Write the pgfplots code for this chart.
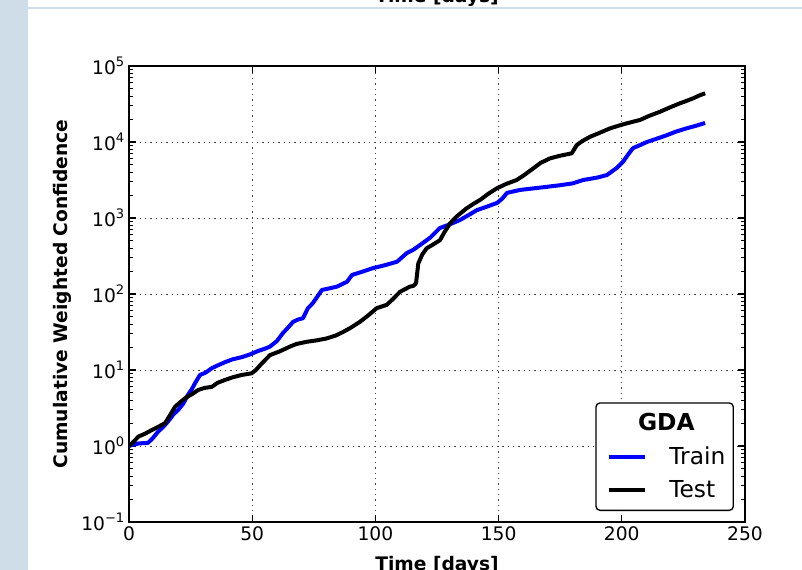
\documentclass[border=0pt]{standalone}
\usepackage{fontspec}
\setmainfont{DejaVu Sans}
\usepackage{pgfplots}
\pgfplotsset{compat=1.18}
\definecolor{sidebar}{RGB}{207,221,233}
\newcommand{\tp}[1]{10\raisebox{6pt}{\fontsize{9.8}{10}\selectfont #1}}

\begin{document}
\begin{tikzpicture}
% page = 802x570 px, 1 px = 0.75pt, plot box lower left at (0,0)
\useasboundingbox (-96.75pt,-36pt) rectangle (504.75pt,391.5pt);
\clip (-96.75pt,-36pt) rectangle (504.75pt,391.5pt);
\fill[white] (-96.75pt,-36pt) rectangle (504.75pt,391.5pt);
\fill[sidebar] (-96.75pt,-36pt) rectangle (-75.4pt,391.5pt);
\draw[sidebar, line width=1pt] (-75.4pt,385.5pt) -- (504.75pt,385.5pt);
\node[anchor=base, font=\fontsize{14}{16}\selectfont\bfseries, inner sep=0pt] at (231pt,389.4pt) {Time [days]};

\begin{axis}[
    at={(0,0)}, anchor=south west,
    scale only axis, width=462pt, height=342pt,
    xmin=0, xmax=250, ymin=0.1, ymax=1e5,
    ymode=log,
    xtick={0,50,100,150,200,250},
    xticklabels={0,50,100,150,200,250},
    ytick={0.1,1,10,100,1000,10000,100000},
    yticklabels={\tp{−1},\tp{0},\tp{1},\tp{2},\tp{3},\tp{4},\tp{5}},
    tick label style={font=\fontsize{14}{16}\selectfont},
    axis line style={line width=1.1pt},
    every tick/.style={black, line width=0.8pt},
    major tick length=5.5pt, minor tick length=3pt,
    grid=major,
    major grid style={black!75, line width=0.6pt, dash pattern=on 1pt off 3pt},
    xlabel={Time [days]}, ylabel={Cumulative Weighted Confidence},
    label style={font=\fontsize{14}{16}\selectfont\bfseries},
    xlabel style={at={(axis description cs:0.5,-0.0746)}, anchor=north, inner sep=0pt},
    ylabel style={at={(axis description cs:-0.1085,0.5)}, anchor=center},
    legend cell align=left,
    legend style={at={(axis description cs:0.9821,0.0241)}, anchor=south east,
        font=\fontsize{17.5}{20}\selectfont, draw=black, line width=1pt,
        rounded corners=3pt, inner xsep=4pt, inner ysep=6pt, row sep=6.5pt, column sep=15pt},
    legend image code/.code={\path (-4pt,0pt); \draw[#1] (0pt,0pt) -- (27pt,0pt);},
]
\addlegendimage{empty legend}
\addlegendentry{\makebox[0pt][c]{\textbf{GDA}\hspace{4.5pt}}}

\addplot[color=blue, line width=3pt, line join=round] coordinates {
(0,1.0) (1.1,1.03) (4,1.08) (7.7,1.1) (9.5,1.25) (11.8,1.54) (14,1.8)
(15.8,2.09) (18,2.6) (19.9,2.97) (22,3.6) (23.9,4.7) (25.5,5.6) (26.8,6.7)
(28.8,8.6) (31,9.2) (33.7,10.6) (36,11.5) (39,12.7) (42,13.8) (45.9,14.8)
(49,16) (52.4,17.8) (55,19) (57.2,20.3) (60,24) (62.5,30.7) (64.5,36)
(66.6,43) (68.5,46) (70.6,48) (72.6,65) (74.5,75) (76.3,91) (78.3,113)
(81,118) (84.4,125) (88.5,145) (90.5,178) (95,198) (99,219) (104,240)
(108.8,266) (112.8,347) (115.3,380) (118.5,450) (122.2,550) (126.2,740)
(130,820) (134.3,940) (138,1100) (141.2,1270) (145,1400) (149.4,1580)
(151.5,1800) (153.4,2140) (158.7,2340) (164,2450) (170,2580) (174.9,2700)
(180,2850) (184.3,3160) (190,3400) (194,3680) (198,4570) (200.5,5500)
(202.5,6800) (204.5,8300) (207.4,9100) (210.2,10000) (214,11000)
(218.3,12300) (222,13700) (226.5,15200) (230,16300) (233.8,17800)
};
\addlegendentry{Train}

\addplot[color=black, line width=3pt, line join=round] coordinates {
(0,1.0) (2,1.15) (3.8,1.33) (6.5,1.45) (9.2,1.62) (12,1.8) (14.6,1.99)
(16.5,2.5) (18.7,3.29) (20.5,3.7) (22.7,4.24) (25.5,4.8) (28.1,5.46)
(30.5,5.8) (33.6,6.0) (36,6.8) (39,7.4) (42,8.0) (45.7,8.6) (49.8,9.05)
(51.5,10) (53.9,12.2) (57.2,15.7) (61,17.5) (65.3,20.3) (68,22) (72.1,23.5)
(76,24.5) (80.2,26) (84,28.5) (87,31.8) (90,36) (93.7,43) (97,52)
(100.5,65) (104.6,72) (107,85) (110,107) (114,125) (115.4,128) (116.5,139)
(117.4,252) (119,330) (120.8,400) (123,440) (126.2,510) (128,650)
(130.3,850) (133,1050) (137,1340) (140,1550) (142.5,1730) (146,2100)
(149.2,2450) (153,2800) (157.3,3160) (160,3600) (164.1,4500) (167,5300)
(170.9,6100) (175,6600) (179.7,7100) (181.7,9100) (184,10300) (187.1,11700)
(191,13200) (195.2,15100) (199,16500) (202,17600) (207.4,19500) (211,22000)
(215.5,25000) (219.5,28500) (223.6,32300) (226,34500) (229,37600)
(231.5,41000) (233.8,43700)
};
\addlegendentry{Test}
\end{axis}
\end{tikzpicture}
\end{document}
